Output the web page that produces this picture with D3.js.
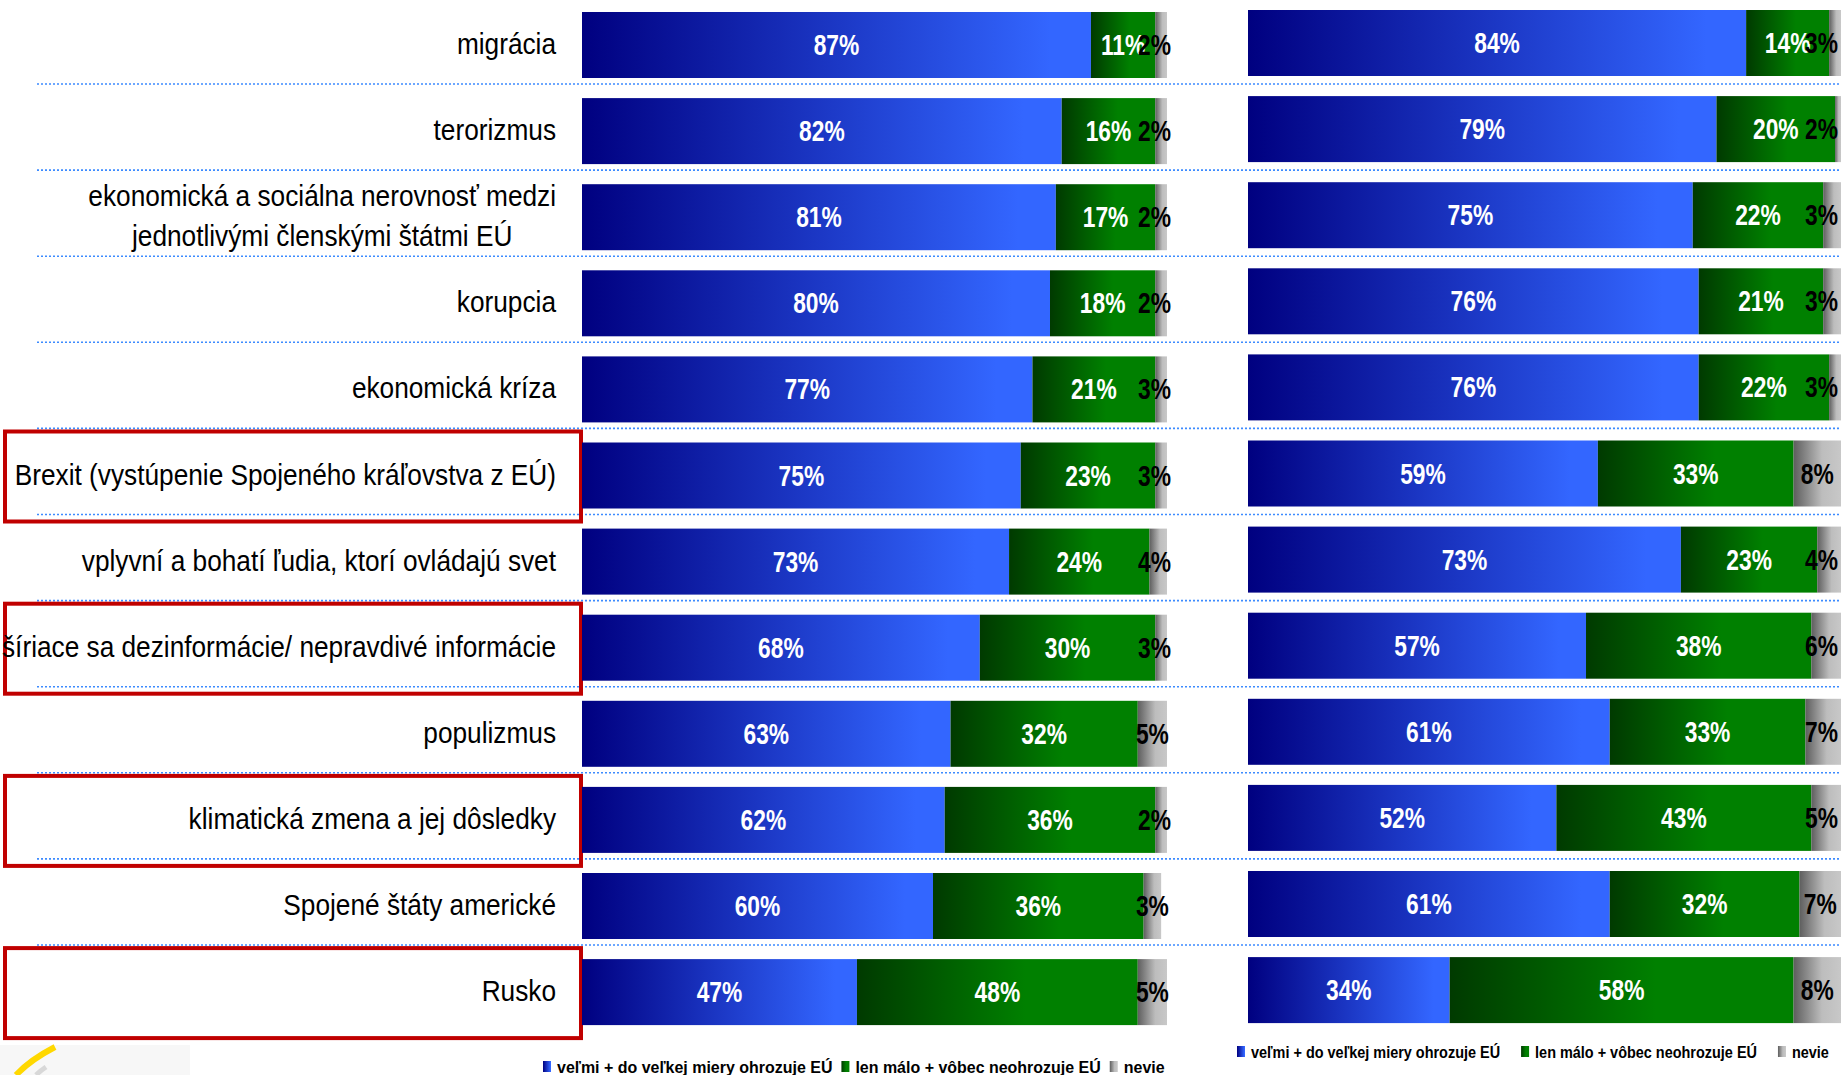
<!DOCTYPE html>
<html>
<head>
<meta charset="utf-8">
<script src="https://cdn.jsdelivr.net/npm/d3@7"></script>
<style>
  body { margin: 0; background: #fff; }
  text { font-family: 'Liberation Sans', Arial, sans-serif; }
</style>
</head>
<body>
<div id="chart"></div>
<script>
// kategórie (poradie zhora nadol)
const CATEGORIES = [
    'migrácia',
    'terorizmus',
    'ekonomická a sociálna nerovnosť medzi\njednotlivými členskými štátmi EÚ',
    'korupcia',
    'ekonomická kríza',
    'Brexit (vystúpenie Spojeného kráľovstva z EÚ)',
    'vplyvní a bohatí ľudia, ktorí ovládajú svet',
    'šíriace sa dezinformácie/ nepravdivé informácie',
    'populizmus',
    'klimatická zmena a jej dôsledky',
    'Spojené štáty americké',
    'Rusko'
];
// zvýraznené kategórie (červený rámik)
const HIGHLIGHTED = [
    'Brexit (vystúpenie Spojeného kráľovstva z EÚ)',
    'šíriace sa dezinformácie/ nepravdivé informácie',
    'klimatická zmena a jej dôsledky',
    'Rusko'
];

// ľavý graf
const LEFT_VELMI = [87, 82, 81, 80, 77, 75, 73, 68, 63, 62, 60, 47];
const LEFT_MALO  = [11, 16, 17, 18, 21, 23, 24, 30, 32, 36, 36, 48];
const LEFT_NEVIE = [ 2,  2,  2,  2,  3,  3,  4,  3,  5,  2,  3,  5];
// pravý graf
const RIGHT_VELMI = [84, 79, 75, 76, 76, 59, 73, 57, 61, 52, 61, 34];
const RIGHT_MALO  = [14, 20, 22, 21, 22, 33, 23, 38, 33, 43, 32, 58];
const RIGHT_NEVIE = [ 3,  2,  3,  3,  3,  8,  4,  6,  7,  5,  7,  8];

// legenda
const SERIES_KEYS = ['velmi', 'malo', 'nevie'];
const LEGEND_LABELS = ['veľmi + do veľkej miery ohrozuje EÚ', 'len málo + vôbec neohrozuje EÚ', 'nevie'];

// rozmery
const SVG_WIDTH = 1841;
const SVG_HEIGHT = 1075;
const ROW_STEP = 86.1;
const BAR_HEIGHT = 66;
const FIRST_BAR_TOP = 12;
const LABEL_RIGHT = 556;
const LEFT_RANGE = [582, 1167];
const RIGHT_RANGE = [1248, 1841];
const RIGHT_SHIFT = -2;
// úzke písmo (Arial Narrow) nie je k dispozícii -> stlačíme vodorovne
const LABEL_FONT = 29, LABEL_SX = 0.905;
const VALUE_FONT = 30, VALUE_SX = 0.76;
const LEGEND_FONT = 17;

const svg = d3.select('#chart')
    .append('svg')
    .attr('width', SVG_WIDTH)
    .attr('height', SVG_HEIGHT)
;

// text stlačený do šírky
function narrow_text(g, x, y, str, sx)
{
    return g.append('text')
        .attr('transform', `translate(${x},${y}) scale(${sx},1)`)
        .text(str)
    ;
}

// prechody farieb
const defs = svg.append('defs');
const GRADIENTS = {
    velmi: [[0, '#000080'], [0.92, '#3366FF'], [1, '#3366FF']],
    malo:  [[0, '#003A00'], [0.6, '#008000'], [1, '#008000']],
    nevie: [[0, '#5E5E5E'], [0.6, '#BDBDBD'], [1, '#C8C8C8']]
};
Object.keys(GRADIENTS).forEach(k => {
    const g = defs.append('linearGradient')
        .attr('id', 'grad_' + k)
        .attr('x1', 0).attr('x2', 1).attr('y1', 0).attr('y2', 0)
    ;
    GRADIENTS[k].forEach(s => g.append('stop').attr('offset', s[0]).attr('stop-color', s[1]));
});

// y škála
const pad = 1 - BAR_HEIGHT / ROW_STEP;
const y0 = FIRST_BAR_TOP - pad * ROW_STEP;
const y = d3.scaleBand()
    .domain(CATEGORIES)
    .range([y0, y0 + ROW_STEP * (CATEGORIES.length + pad)])
    .padding(pad)
;

// bodkované oddeľovače
const sep_g = svg.append('g')
    .attr('stroke', '#3D8BFF')
    .attr('stroke-width', 1.6)
    .attr('stroke-dasharray', '2 2')
;
CATEGORIES.slice(0, -1).forEach(c => {
    const yy = y(c) + y.bandwidth() + 6;
    sep_g.append('line')
        .attr('x1', 37).attr('x2', SVG_WIDTH)
        .attr('y1', yy).attr('y2', yy)
    ;
});

// červené rámiky
svg.append('g')
    .selectAll('rect')
    .data(HIGHLIGHTED)
    .join('rect')
    .attr('x', 5)
    .attr('y', d => y(d) - 11)
    .attr('width', 576)
    .attr('height', y.bandwidth() + 24)
    .attr('fill', 'none')
    .attr('stroke', '#C00000')
    .attr('stroke-width', 4)
;

// popisy kategórií
const label_g = svg.append('g')
    .attr('font-size', LABEL_FONT)
    .attr('fill', '#000')
;
CATEGORIES.forEach(c => {
    const lines = c.split('\n');
    const cy = y(c) + y.bandwidth() / 2 + 9;
    if (lines.length === 1) {
        narrow_text(label_g, LABEL_RIGHT, cy, c, LABEL_SX)
            .attr('text-anchor', 'end')
        ;
    } else {
        const first = narrow_text(label_g, LABEL_RIGHT, cy - 20, lines[0], LABEL_SX)
            .attr('text-anchor', 'end')
        ;
        const mid = LABEL_RIGHT - first.node().getComputedTextLength() * LABEL_SX / 2;
        narrow_text(label_g, mid, cy + 20, lines[1], LABEL_SX)
            .attr('text-anchor', 'middle')
        ;
    }
});

// jeden skladaný graf
function draw_stack(velmi, malo, nevie, range, shift, label_limit)
{
    const rows = CATEGORIES.map((c, i) => ({cat: c, velmi: velmi[i], malo: malo[i], nevie: nevie[i]}));
    const x = d3.scaleLinear().domain([0, 100]).range(range).clamp(true);
    const series = d3.stack().keys(SERIES_KEYS)(rows);

    const g = svg.append('g').attr('transform', `translate(0,${shift})`);
    series.forEach(s => {
        const sg = g.append('g');
        sg.selectAll('rect')
            .data(s)
            .join('rect')
            .attr('x', d => x(d[0]))
            .attr('y', d => y(d.data.cat))
            .attr('width', d => x(d[1]) - x(d[0]))
            .attr('height', y.bandwidth())
            .attr('fill', `url(#grad_${s.key})`)
        ;
        const tg = sg.append('g')
            .attr('font-size', VALUE_FONT)
            .attr('font-weight', 'bold')
            .attr('text-anchor', 'middle')
            .attr('fill', s.key === 'nevie' ? '#000' : '#fff')
        ;
        s.forEach(d => {
            const cx = (x(d[0]) + x(d[1])) / 2;
            const ty = y(d.data.cat) + y.bandwidth() / 2 + 10;
            const t = narrow_text(tg, cx, ty, d.data[s.key] + '%', VALUE_SX);
            if (s.key === 'nevie') {
                // posledný popis nesmie vyjsť za okraj
                const half = t.node().getComputedTextLength() * VALUE_SX / 2;
                const nx = Math.min(cx, label_limit - half);
                t.attr('transform', `translate(${nx},${ty}) scale(${VALUE_SX},1)`);
            }
        });
    });
}

draw_stack(LEFT_VELMI, LEFT_MALO, LEFT_NEVIE, LEFT_RANGE, 0, LEFT_RANGE[1] + 4);
draw_stack(RIGHT_VELMI, RIGHT_MALO, RIGHT_NEVIE, RIGHT_RANGE, RIGHT_SHIFT, SVG_WIDTH - 3);

// legenda
function draw_legend(x_start, baseline, gap, sx)
{
    const g = svg.append('g')
        .attr('font-size', LEGEND_FONT)
        .attr('font-weight', 'bold')
    ;
    let x = x_start;
    SERIES_KEYS.forEach((k, i) => {
        g.append('rect')
            .attr('x', x)
            .attr('y', baseline - 12)
            .attr('width', 8)
            .attr('height', 11)
            .attr('fill', `url(#grad_${k})`)
        ;
        const t = narrow_text(g, x + 14, baseline, LEGEND_LABELS[i], sx);
        x += 14 + t.node().getComputedTextLength() * sx + gap;
    });
}
draw_legend(543, 1073, 9, 0.94);
draw_legend(1237, 1058, 21, 0.85);

// logo v rohu
svg.append('rect')
    .attr('x', 0).attr('y', 1045).attr('width', 190).attr('height', 30)
    .attr('fill', '#F7F7F7')
;
svg.append('path')
    .attr('d', 'M55,1047 Q30,1060 16,1075')
    .attr('fill', 'none').attr('stroke', '#FFD800').attr('stroke-width', 6)
;
svg.append('path')
    .attr('d', 'M46,1067 Q40,1071 36,1075')
    .attr('fill', 'none').attr('stroke', '#D8D8D8').attr('stroke-width', 5)
;
</script>
</body>
</html>
